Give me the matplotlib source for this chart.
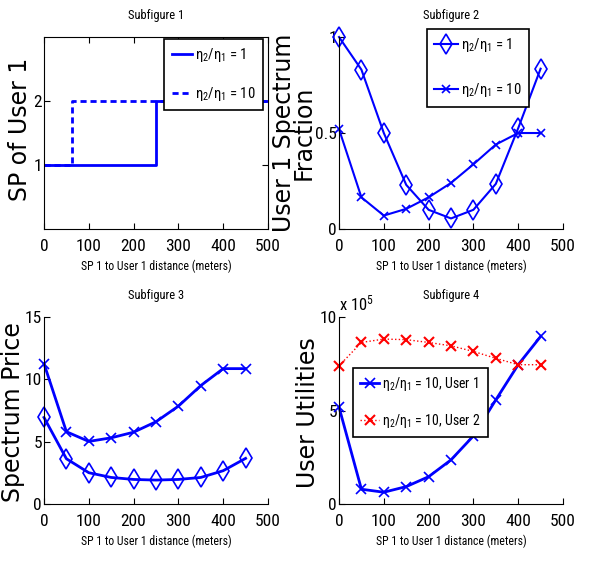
import matplotlib
matplotlib.use('Agg')
import matplotlib.pyplot as plt
import numpy as np

plt.rcParams['font.family'] = ['DejaVu Sans Condensed', 'Liberation Sans Narrow', 'Roboto Condensed',
                               'Liberation Sans']
plt.rcParams['font.stretch'] = 'condensed'
plt.rcParams['mathtext.default'] = 'regular'

# distances (meters)
dist = np.arange(0, 500, 50)

# subfigure 1: serving SP of user 1 (step changes)
sp_x_r1 = [0, 250, 500]
sp_y_r1 = [1, 2, 2]
sp_x_r10 = [0, 62.5, 500]
sp_y_r10 = [1, 2, 2]

# subfigure 2: user 1 spectrum fraction
frac_r1 = [1.0, 0.83, 0.50, 0.23, 0.10, 0.055, 0.10, 0.235, 0.525, 0.835]
frac_r10 = [0.52, 0.165, 0.07, 0.105, 0.165, 0.24, 0.337, 0.44, 0.50, 0.50]

# subfigure 3: spectrum price
price_r10 = [11.26, 5.8, 5.02, 5.31, 5.76, 6.6, 7.85, 9.5, 10.86, 10.86]
price_r1 = [6.94, 3.63, 2.51, 2.13, 1.97, 1.92, 1.97, 2.13, 2.67, 3.66]

# subfigure 4: user utilities (x 1e5)
util_user1 = [5.18, 0.79, 0.63, 0.93, 1.46, 2.36, 3.64, 5.57, 7.45, 8.96]
util_user2 = [7.39, 8.64, 8.82, 8.79, 8.64, 8.46, 8.16, 7.79, 7.45, 7.45]

lab1 = r'$\eta_2/\eta_1$ = 1'
lab10 = r'$\eta_2/\eta_1$ = 10'
xlab = 'SP 1 to User 1 distance (meters)'
ylab_font = {'family': ['DejaVu Sans'], 'fontstretch': 'normal', 'fontsize': 17}

fig = plt.figure(figsize=(5.93, 5.61), dpi=100, facecolor='w')
ax1 = fig.add_axes([0.0742, 0.5918, 0.3777, 0.3422])
ax2 = fig.add_axes([0.5717, 0.5918, 0.3777, 0.3422])
ax3 = fig.add_axes([0.0742, 0.1016, 0.3777, 0.3333])
ax4 = fig.add_axes([0.5717, 0.1016, 0.3777, 0.3333])

for ax in (ax1, ax2, ax3, ax4):
    ax.tick_params(direction='in', length=4, labelsize=12.5)
    ax.tick_params(axis='x', pad=7)
    ax.tick_params(axis='y', pad=1.5)
    ax.set_xlim(0, 500)
    ax.set_xticks([0, 100, 200, 300, 400, 500])
    ax.set_xlabel(xlab, fontsize=8.5, labelpad=4)
for ax in (ax2, ax3, ax4):
    ax.spines['top'].set_visible(False)
    ax.spines['right'].set_visible(False)

def boxed_legend(ax, **kw):
    leg = ax.legend(fancybox=False, edgecolor='k', framealpha=1, handletextpad=0.2,
                    borderpad=0.5, borderaxespad=0, **kw)
    leg.get_frame().set_linewidth(1.2)
    return leg

# subfigure 1
ax1.plot(sp_x_r1, sp_y_r1, color='b', lw=2, drawstyle='steps-post', label=lab1)
ax1.plot(sp_x_r10, sp_y_r10, color='b', lw=2, ls=(0, (2.2, 1.4)), drawstyle='steps-post', label=lab10)
ax1.set_ylim(0, 3)
ax1.set_yticks([1, 2])
ax1.tick_params(top=True, right=True)
ax1.set_ylabel('SP of User 1', **ylab_font)
ax1.yaxis.set_label_coords(-0.055, 0.52)
ax1.set_title('Subfigure 1', fontsize=9, pad=13)
boxed_legend(ax1, loc='upper right', bbox_to_anchor=(0.978, 0.99), handlelength=1.4,
             fontsize=10.5, labelspacing=1.4)

# subfigure 2
ax2.plot(dist, frac_r1, color='b', lw=1.5, marker='d', ms=10, mfc='none', mew=1.2, clip_on=False, label=lab1)
ax2.plot(dist, frac_r10, color='b', lw=1.5, marker='x', ms=6, mew=1.2, clip_on=False, label=lab10)
ax2.set_ylim(0, 1)
ax2.set_yticks([0, 0.5, 1])
ax2.set_yticklabels(['0', '0.5', '1'])
ax2.set_ylabel('User 1 Spectrum\nFraction', linespacing=0.75, **ylab_font)
ax2.yaxis.set_label_coords(-0.104, 0.5)
ax2.set_title('Subfigure 2', fontsize=9, pad=13)
boxed_legend(ax2, loc='upper left', bbox_to_anchor=(0.393, 1.042), handlelength=1.6,
             fontsize=10.5, labelspacing=1.85)

# subfigure 3
ax3.plot(dist, price_r10, color='b', lw=2, marker='x', ms=7, mew=1.2, clip_on=False)
ax3.plot(dist, price_r1, color='b', lw=2, marker='d', ms=10, mfc='none', mew=1.2, clip_on=False)
ax3.set_ylim(0, 15)
ax3.set_yticks([0, 5, 10, 15])
ax3.set_ylabel('Spectrum Price', **ylab_font)
ax3.yaxis.set_label_coords(-0.085, 0.49)
ax3.set_title('Subfigure 3', fontsize=9, pad=13)

# subfigure 4
ax4.plot(dist, util_user1, color='b', lw=2, marker='x', ms=7, mew=1.2, clip_on=False,
         label=r'$\eta_2/\eta_1$ = 10, User 1')
ax4.plot(dist, util_user2, color='r', lw=1, ls=':', marker='x', ms=7, mew=1.5, clip_on=False,
         label=r'$\eta_2/\eta_1$ = 10, User 2')
ax4.set_ylim(0, 10)
ax4.set_yticks([0, 5, 10])
ax4.text(0.0, 1.02, r'x 10$^5$', transform=ax4.transAxes, fontsize=12, ha='left', va='bottom')
ax4.set_ylabel('User Utilities', **ylab_font)
ax4.yaxis.set_label_coords(-0.085, 0.49)
ax4.set_title('Subfigure 4', fontsize=9, pad=13)
boxed_legend(ax4, loc='upper left', bbox_to_anchor=(0.0625, 0.727), handlelength=1.4,
             fontsize=10, labelspacing=1.35)

fig.savefig('out.png', dpi=100)
